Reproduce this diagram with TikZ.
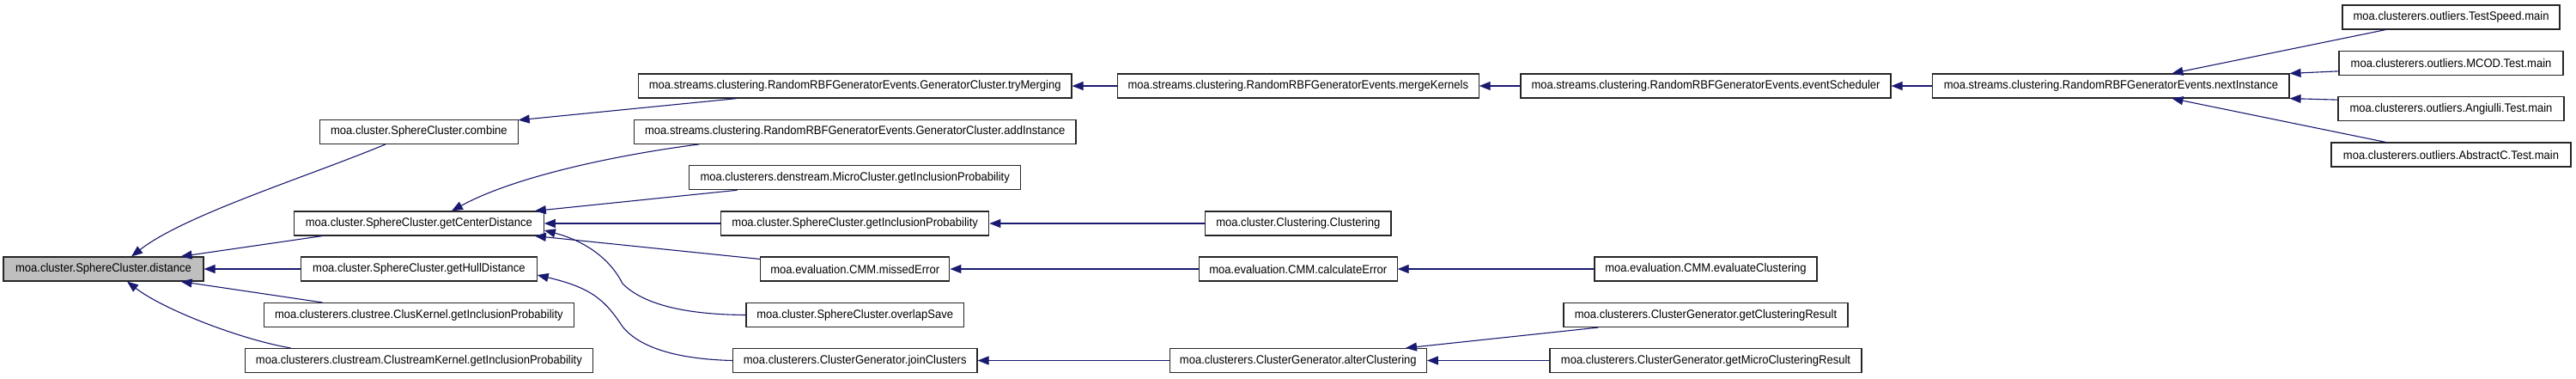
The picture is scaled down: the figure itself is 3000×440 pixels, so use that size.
\documentclass[tikz,border=0pt]{standalone}
\usepackage{fontspec}
\setmainfont[FakeStretch=0.93]{Liberation Sans}
\usetikzlibrary{arrows.meta}
\definecolor{edgeblue}{HTML}{191970}
\definecolor{focusgray}{HTML}{BFBFBF}
\tikzset{
  fn/.style={draw=black!85, line width=1.1pt, fill=white, rectangle, inner sep=0pt,
    minimum height=28pt, font=\fontsize{14}{16}\selectfont, text=black},
  focus/.style={fn, fill=focusgray},
  call/.style={draw=edgeblue, line width=1.1pt, -{Triangle[length=13pt,width=10pt]}, fill=none},
}
\begin{document}
\begin{tikzpicture}[x=1pt,y=-1pt]
\useasboundingbox[fill=white] (0,0) rectangle (3000,440);
% column 0
\node[focus, minimum width=233pt] (dist) at (120.5,313) {moa.cluster.SphereCluster.distance};
% column 1
\node[fn, minimum width=230.5pt] (comb) at (487.9,153.3) {moa.cluster.SphereCluster.combine};
\node[fn, minimum width=290.8pt] (gcd) at (487.9,260) {moa.cluster.SphereCluster.getCenterDistance};
\node[fn, minimum width=274.5pt] (ghd) at (487.9,313) {moa.cluster.SphereCluster.getHullDistance};
\node[fn, minimum width=361.7pt] (ck) at (487.9,366.5) {moa.clusterers.clustree.ClusKernel.getInclusionProbability};
\node[fn, minimum width=405.7pt] (cs) at (487.9,419.5) {moa.clusterers.clustream.ClustreamKernel.getInclusionProbability};
% column 2
\node[fn, minimum width=504.6pt] (trym) at (995.7,100) {moa.streams.clustering.RandomRBFGeneratorEvents.GeneratorCluster.tryMerging};
\node[fn, minimum width=514.6pt] (addi) at (995.7,153.3) {moa.streams.clustering.RandomRBFGeneratorEvents.GeneratorCluster.addInstance};
\node[fn, minimum width=386.4pt] (micro) at (995.7,206.7) {moa.clusterers.denstream.MicroCluster.getInclusionProbability};
\node[fn, minimum width=312.3pt] (gip) at (995.7,260) {moa.cluster.SphereCluster.getInclusionProbability};
\node[fn, minimum width=220.4pt] (miss) at (995.7,313) {moa.evaluation.CMM.missedError};
\node[fn, minimum width=253.5pt] (ovl) at (995.7,366.5) {moa.cluster.SphereCluster.overlapSave};
\node[fn, minimum width=284.6pt] (join) at (995.7,419.5) {moa.clusterers.ClusterGenerator.joinClusters};
% column 3
\node[fn, minimum width=420.7pt] (merge) at (1511.8,100) {moa.streams.clustering.RandomRBFGeneratorEvents.mergeKernels};
\node[fn, minimum width=216.4pt] (clus) at (1511.8,260) {moa.cluster.Clustering.Clustering};
\node[fn, minimum width=230.6pt] (calc) at (1511.8,313) {moa.evaluation.CMM.calculateError};
\node[fn, minimum width=299.2pt] (alter) at (1511.8,419.5) {moa.clusterers.ClusterGenerator.alterClustering};
% column 4
\node[fn, minimum width=431pt] (evs) at (1986.5,100) {moa.streams.clustering.RandomRBFGeneratorEvents.eventScheduler};
\node[fn, minimum width=259pt] (evc) at (1986.5,313) {moa.evaluation.CMM.evaluateClustering};
\node[fn, minimum width=331pt] (gcr) at (1986.5,366.5) {moa.clusterers.ClusterGenerator.getClusteringResult};
\node[fn, minimum width=363pt] (gmcr) at (1986.5,419.5) {moa.clusterers.ClusterGenerator.getMicroClusteringResult};
% column 5
\node[fn, minimum width=415.2pt] (next) at (2458.4,100) {moa.streams.clustering.RandomRBFGeneratorEvents.nextInstance};
% column 6
\node[fn, minimum width=253pt] (tsp) at (2854.5,20) {moa.clusterers.outliers.TestSpeed.main};
\node[fn, minimum width=261pt] (mcod) at (2854.5,73.3) {moa.clusterers.outliers.MCOD.Test.main};
\node[fn, minimum width=263pt] (ang) at (2854.5,126.7) {moa.clusterers.outliers.Angiulli.Test.main};
\node[fn, minimum width=279pt] (absc) at (2854.5,180) {moa.clusterers.outliers.AbstractC.Test.main};

% edges into distance
\draw[call] ([xshift=77pt]comb.south west) .. controls (360,205) and (215,250) .. ([xshift=32.5pt]dist.north);
\draw[call] ([xshift=33.5pt]gcd.south west) -- ([xshift=-27pt]dist.north east);
\draw[call] (ghd) -- (dist);
\draw[call] ([xshift=69pt]ck.north west) -- ([xshift=-27pt]dist.south east);
\draw[call] ([xshift=54pt]cs.north west) .. controls (280,395) and (190,360) .. ([xshift=27.5pt]dist.south);
% edges into column 1
\draw[call] ([xshift=115.5pt]trym.south west) -- ([yshift=-1pt]comb.north east);
\draw[call] ([xshift=76.5pt]addi.south west) .. controls (720,180) and (600,205) .. ([xshift=38pt]gcd.north);
\draw[call] ([xshift=56.6pt]micro.south west) -- ([xshift=-11pt]gcd.north east);
\draw[call] (gip) -- (gcd);
\draw[call] ([yshift=-3pt]miss.north west) -- ([xshift=-11pt]gcd.south east);
\draw[call] (ovl.west) .. controls (800,366) and (750,355) .. (725,330) .. controls (710,300) and (680,280) .. ([yshift=-8pt]gcd.east);
\draw[call] (join.west) .. controls (790,418) and (745,405) .. (725,380) .. controls (705,350) and (690,335) .. ([yshift=-7pt]ghd.east);
% edges into column 2
\draw[call] (merge) -- (trym);
\draw[call] (clus) -- (gip);
\draw[call] (calc) -- (miss);
\draw[call] (alter) -- (join);
% edges into column 3
\draw[call] (evs) -- (merge);
\draw[call] (evc) -- (calc);
\draw[call] ([xshift=41pt]gcr.south west) -- ([xshift=-25pt]alter.north east);
\draw[call] (gmcr) -- (alter);
% edges into column 4 and 5
\draw[call] (next) -- (evs);
\draw[call] ([xshift=51pt]tsp.south west) -- ([xshift=71pt]next.north);
\draw[call] ([yshift=5pt]mcod.south west) -- (next.north east);
\draw[call] ([yshift=-4pt]ang.north west) -- (next.south east);
\draw[call] ([xshift=64pt]absc.north west) -- ([xshift=71pt]next.south);
\end{tikzpicture}
\end{document}
